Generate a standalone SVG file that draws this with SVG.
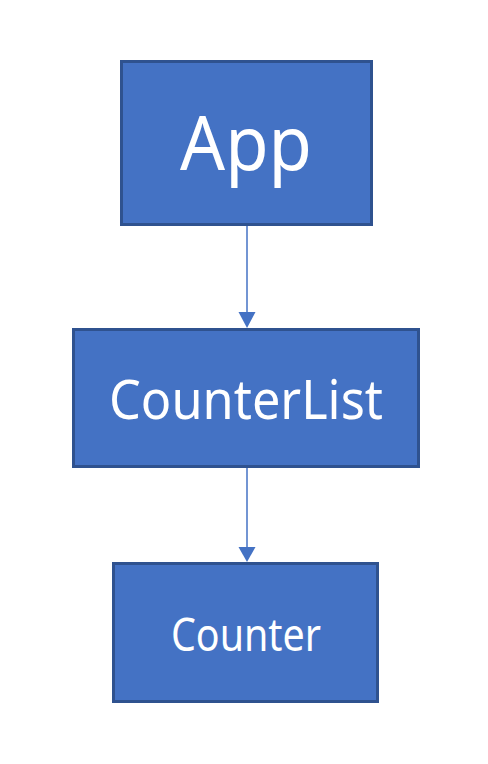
<svg xmlns="http://www.w3.org/2000/svg" width="488" height="764" viewBox="0 0 488 764">
<style>
.box{fill:#4472C4;stroke:#2F528F;stroke-width:3}
.lbl{fill:#FFFFFF;font-family:"Noto Sans","Open Sans","DejaVu Sans",sans-serif;text-anchor:middle}
.edge{stroke:#4472C4;stroke-width:1.5;fill:none}
.head{fill:#4472C4}
</style>
<rect width="488" height="764" fill="#FFFFFF"/>
<g id="connectors">
<line class="edge" x1="247" y1="225" x2="247" y2="312"/>
<path class="head" d="M238.5,312 L255.5,312 L247,328 Z"/>
<line class="edge" x1="247" y1="468" x2="247" y2="547"/>
<path class="head" d="M238.5,547 L255.5,547 L247,562 Z"/>
</g>
<g id="app">
<rect class="box" x="121.5" y="61.5" width="250" height="163"/>
<text class="lbl" x="246" y="170" font-size="74" textLength="132" lengthAdjust="spacingAndGlyphs">App</text>
</g>
<g id="counterlist">
<rect class="box" x="73.5" y="329.5" width="345" height="137"/>
<text class="lbl" x="246" y="419" font-size="55" textLength="274" lengthAdjust="spacingAndGlyphs">CounterList</text>
</g>
<g id="counter">
<rect class="box" x="113.5" y="563.5" width="264" height="138"/>
<text class="lbl" x="246" y="651" font-size="45" textLength="150" lengthAdjust="spacingAndGlyphs">Counter</text>
</g>
</svg>
